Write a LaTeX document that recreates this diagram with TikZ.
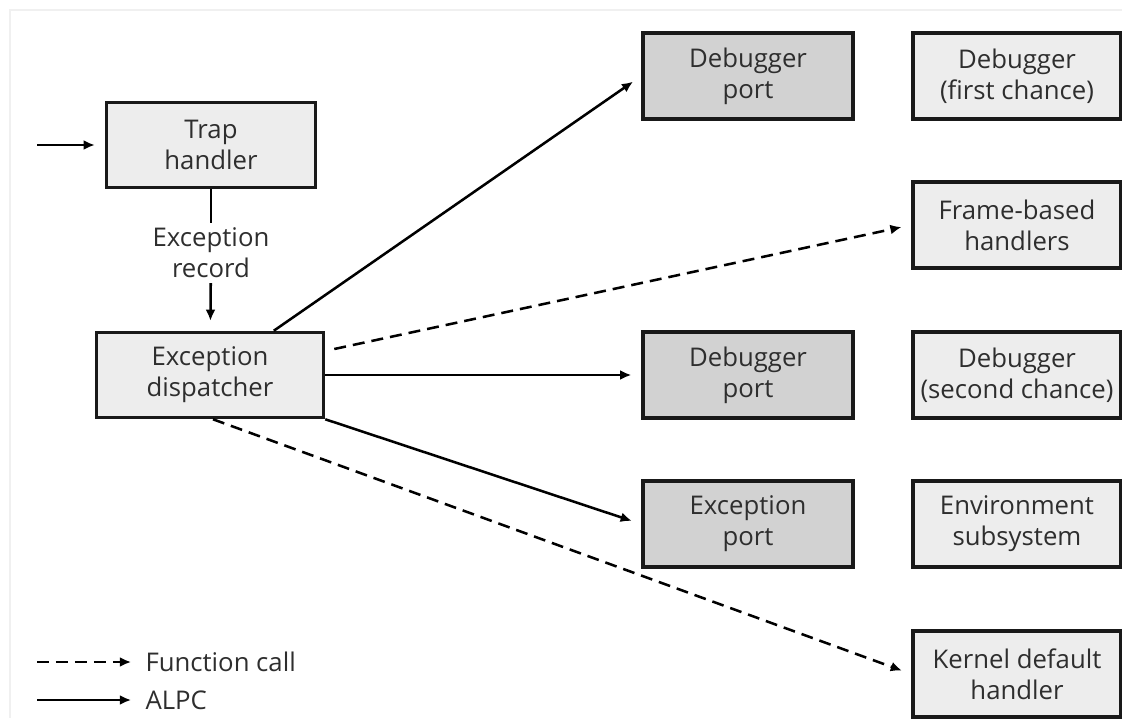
\documentclass[tikz,border=0pt]{standalone}
\usepackage{fontspec}
\setmainfont{Open Sans}
\usepackage{tikz}
\usetikzlibrary{arrows.meta}

\definecolor{boxlight}{HTML}{EDEDED}
\definecolor{boxdark}{HTML}{D2D2D2}
\definecolor{textgray}{HTML}{2E2E2E}

\begin{document}
\begin{tikzpicture}[
                x=0.025cm, y=-0.025cm,
                every node/.style={align=center, text=textgray, font=\fontsize{18.3}{22}\selectfont},
                light box/.style={draw=black!90, line width=2.5pt, fill=boxlight, minimum width=5.2cm, minimum height=2.15cm, inner sep=0pt},
                port box/.style={light box, fill=boxdark, minimum width=5.25cm},
                alpc/.style={-{Latex[length=8pt,width=7pt]}, line width=1.8pt, shorten >=7pt},
                call/.style={alpc, dash pattern=on 8.5pt off 5pt}
            ]

            \useasboundingbox (0,0) rectangle (1122,718);
            \draw[black!6, line width=2pt] (10,718) -- (10,10) -- (1122,10);

            % Nodes
            \node[light box, minimum width=5.225cm, minimum height=2.125cm] (trap) at (211,145) {Trap\\handler};
            \node (rec) at (211,253) {Exception\\record};
            \node[light box, minimum width=5.675cm, minimum height=2.125cm] (disp) at (210,375) {Exception\\dispatcher};

            \node[port box] (dbg1) at (748,76) {Debugger\\port};
            \node[port box] (dbg2) at (748,375) {Debugger\\port};
            \node[port box] (expt) at (748,524) {Exception\\port};

            \node[light box] (first) at (1017,76) {Debugger\\(first chance)};
            \node[light box] (frame) at (1017,225) {Frame-based\\handlers};
            \node[light box] (second) at (1017,375) {Debugger\\(second chance)};
            \node[light box] (env) at (1017,524) {Environment\\subsystem};
            \node[light box] (kern) at (1017,674) {Kernel default\\handler};

            % Legend
            \coordinate (fcin) at (37,662);
            \coordinate (alpcin) at (37,700);
            \node[anchor=west, inner sep=3pt] (fcall) at (141,662) {Function call};
            \node[anchor=west, inner sep=3pt] (alpclbl) at (141,700) {ALPC};

            % Edges
            \coordinate (in) at (37,145);
            \draw[alpc] (in) -- (trap);
            \draw[line width=1.8pt] (trap) -- (rec);
            \draw[alpc] (rec) -- (disp);

            \draw[alpc] (disp) -- (dbg1.west);
            \draw[call] ([shift={(9,-26)}]disp.east) -- (frame.west);
            \draw[alpc] (disp) -- (dbg2);
            \draw[alpc] (disp.south east) -- (expt.west);
            \draw[call] ([shift={(3,0)}]disp.south) -- (kern.west);

            \draw[call] (fcin) -- (fcall);
            \draw[alpc] (alpcin) -- (alpclbl);

            \end{tikzpicture}
\end{document}
